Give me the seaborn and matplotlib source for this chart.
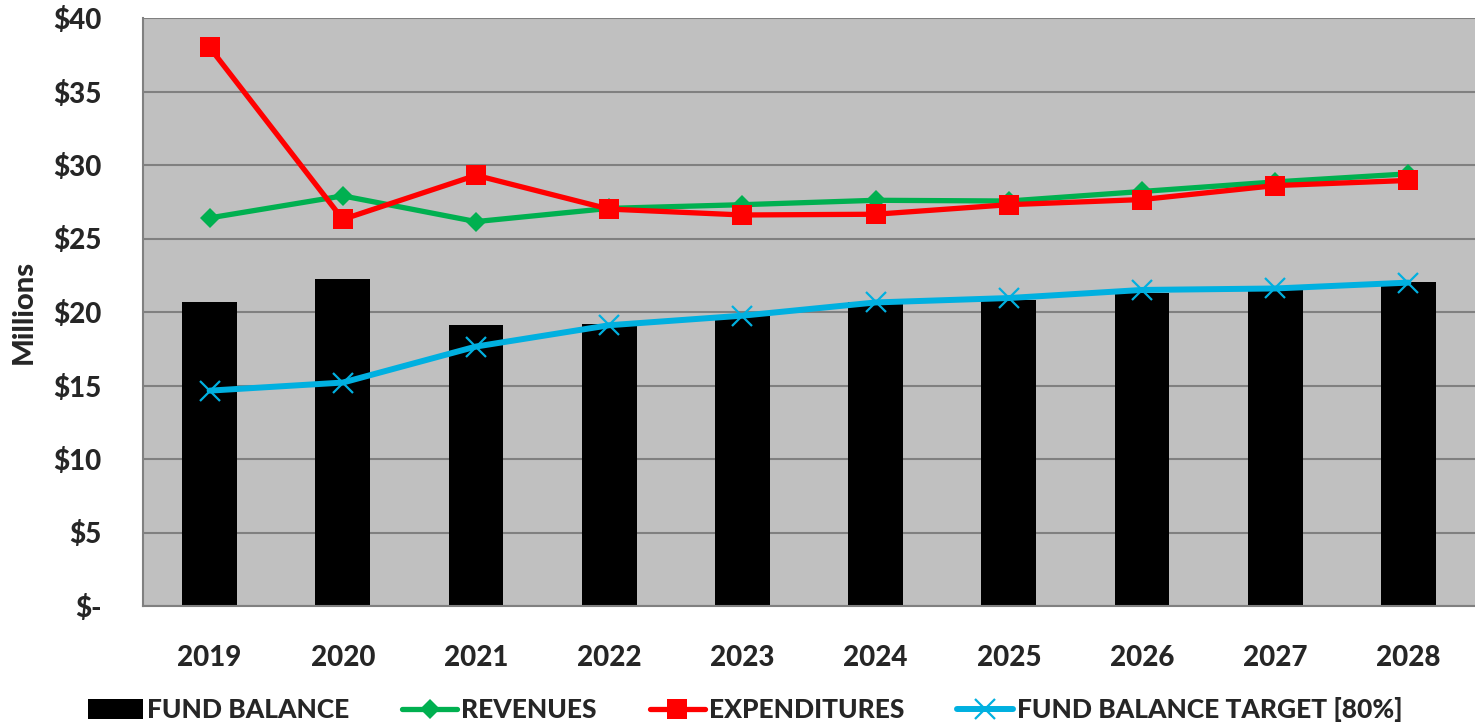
import numpy as np
import pandas as pd
import matplotlib
matplotlib.use("Agg")
import matplotlib.pyplot as plt
import seaborn as sns

years = ["2019", "2020", "2021", "2022", "2023", "2024", "2025", "2026", "2027", "2028"]
fund_balance = [20.7, 22.25, 19.1, 19.15, 19.75, 20.7, 20.8, 21.3, 21.5, 22.05]
revenues = [26.4, 27.9, 26.15, 27.05, 27.3, 27.6, 27.55, 28.2, 28.85, 29.4]
expenditures = [38.0, 26.3, 29.3, 27.0, 26.6, 26.65, 27.3, 27.65, 28.6, 28.95]
target = [14.65, 15.2, 17.65, 19.1, 19.75, 20.65, 20.95, 21.5, 21.6, 22.0]
ytick_values = [0, 5, 10, 15, 20, 25, 30, 35, 40]
ytick_labels = ["$-", "$5", "$10", "$15", "$20", "$25", "$30", "$35", "$40"]
series_names = ["FUND BALANCE", "REVENUES", "EXPENDITURES", "FUND BALANCE TARGET [80%]"]

sns.set_style("white")
plt.rcParams["font.family"] = ["Lato", "DejaVu Sans"]
W = 900

fig = plt.figure(figsize=(14.75, 7.28), dpi=100)
ax = fig.add_axes([143 / 1475, 122 / 728, 1332 / 1475, 588 / 728])
ax.set_facecolor("#C0C0C0")
ax.set_axisbelow(True)

pos = np.arange(len(years))
df = pd.DataFrame({"year": years, "pos": pos, "fb": fund_balance,
                   "rev": revenues, "exp": expenditures, "tgt": target})

sns.barplot(data=df, x="pos", y="fb", color="black", width=0.41, native_scale=True,
            saturation=1, label=series_names[0], ax=ax, zorder=2,
            edgecolor="black", linewidth=0)
sns.lineplot(data=df, x="pos", y="rev", color="#00B050", linewidth=3.8, marker="D",
             markersize=10, markeredgewidth=0, label=series_names[1], ax=ax, zorder=3)
sns.lineplot(data=df, x="pos", y="exp", color="#FF0000", linewidth=3.8, marker="s",
             markersize=14, markeredgewidth=0, label=series_names[2], ax=ax, zorder=4)
sns.lineplot(data=df, x="pos", y="tgt", color="#00B0E0", linewidth=4.3, marker="x",
             markersize=14, markeredgewidth=1.6, markeredgecolor="#00B0E0",
             label=series_names[3], ax=ax, zorder=5)

ax.set_xlim(-0.5, len(years) - 0.5)
ax.set_ylim(0, 40)
ax.set_yticks(ytick_values)
ax.set_yticklabels(ytick_labels, fontsize=20, fontweight=W)
ax.set_xticks(pos)
ax.set_xticklabels(years, fontsize=20, fontweight=W)
ax.set_xticks(np.arange(-0.5, len(years)), minor=True)
ax.tick_params(axis="x", which="major", length=0, pad=28)
ax.tick_params(axis="x", which="minor", length=8, width=1.2, color="#808080", direction="out")
ax.tick_params(axis="y", which="major", length=8, width=1.2, color="#808080", direction="out", pad=22)
ax.grid(axis="y", color="#808080", linewidth=1.5)
ax.grid(axis="x", visible=False)
for s in ["top", "right"]:
    ax.spines[s].set_visible(False)
for s in ["left", "bottom"]:
    ax.spines[s].set_color("#808080")
    ax.spines[s].set_linewidth(1.5)
ax.set_xlabel("")
ax.set_ylabel("Millions", fontsize=21, fontweight=W, labelpad=12)

handles, labels = ax.get_legend_handles_labels()
ax.get_legend().remove()
order = [labels.index(n) for n in series_names]
fig.legend([handles[i] for i in order], [labels[i] for i in order],
           loc="lower center", bbox_to_anchor=(0.505, -0.025), ncol=4,
           frameon=False, prop={"size": 19, "weight": W}, handlelength=2.1,
           handletextpad=0.15, columnspacing=2.0, handleheight=0.8)

fig.savefig("out.png", dpi=100)
